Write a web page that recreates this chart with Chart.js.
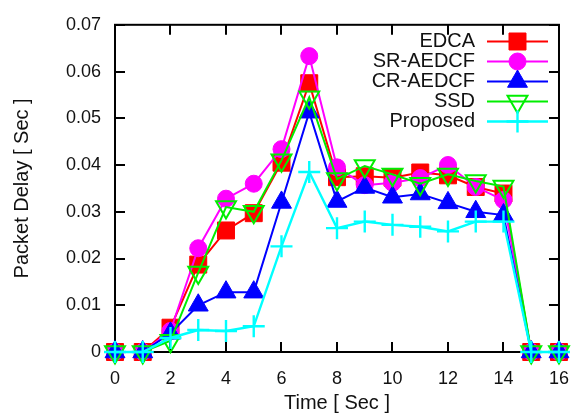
<!DOCTYPE html>
<html>
<head>
<meta charset="utf-8">
<script src="https://cdn.jsdelivr.net/npm/chart.js@4/dist/chart.umd.min.js"></script>
<style>
  html, body { margin: 0; padding: 0; background: #fff; }
  #wrap { width: 585px; height: 416px; }
</style>
</head>
<body>
<div id="wrap"><canvas id="chart" width="585" height="416"></canvas></div>
<script>
// data
const times = [0, 1, 2, 3, 4, 5, 6, 7, 8, 9, 10, 11, 12, 13, 14, 15, 16];
const edca = [0, 0, 0.0052, 0.0187, 0.026, 0.0297, 0.0405, 0.0575, 0.0374, 0.0376, 0.0373, 0.0384, 0.0378, 0.0353, 0.0339, 0, 0];
const srAedcf = [0, 0, 0.0045, 0.0222, 0.0328, 0.036, 0.0434, 0.0633, 0.0395, 0.0357, 0.0362, 0.0372, 0.04, 0.0353, 0.0325, 0, 0];
const crAedcf = [0, 0, 0.004, 0.01, 0.0128, 0.0128, 0.032, 0.0513, 0.0322, 0.0352, 0.0331, 0.0338, 0.0319, 0.03, 0.0293, 0, 0];
const ssd = [0, 0, 0.0024, 0.017, 0.031, 0.03, 0.041, 0.0545, 0.037, 0.0398, 0.038, 0.036, 0.038, 0.0366, 0.0354, 0, 0];
const proposed = [0, 0, 0.003, 0.0047, 0.0045, 0.0055, 0.0226, 0.0385, 0.0265, 0.0279, 0.0272, 0.0268, 0.0258, 0.0279, 0.0279, 0, 0];

const seriesNames = ["EDCA", "SR-AEDCF", "CR-AEDCF", "SSD", "Proposed"];
const xTicks = [0, 2, 4, 6, 8, 10, 12, 14, 16];
const yTicks = [0, 0.01, 0.02, 0.03, 0.04, 0.05, 0.06, 0.07];

const FONT = "'Liberation Sans', Arial, sans-serif";

const styles = [
  { color: "#ff0000", pointStyle: "rect", radius: 12, fill: true, rot: 0, bw: 1 },
  { color: "#ff00ff", pointStyle: "circle", radius: 8.5, fill: true, rot: 0, bw: 1 },
  { color: "#0000ff", pointStyle: "triangle", radius: 11.5, fill: true, rot: 0, bw: 1 },
  { color: "#00ee00", pointStyle: "triangle", radius: 11.5, fill: false, rot: 180, bw: 2 },
  { color: "#00ffff", pointStyle: "cross", radius: 11, fill: false, rot: 0, bw: 2.4 },
];

const allValues = [edca, srAedcf, crAedcf, ssd, proposed];

const datasets = allValues.map((vals, i) => {
  const s = styles[i];
  return {
    label: seriesNames[i],
    data: times.map((t, j) => ({ x: t, y: vals[j] })),
    borderColor: s.color,
    backgroundColor: s.fill ? s.color : "rgba(0,0,0,0)",
    borderWidth: i === 4 ? 2.4 : 2,
    pointStyle: s.pointStyle,
    pointRadius: s.radius,
    pointRotation: s.rot,
    pointBorderColor: s.color,
    pointBackgroundColor: s.fill ? s.color : "rgba(0,0,0,0)",
    pointBorderWidth: s.bw,
    tension: 0,
    clip: false,
    order: 5 - i, // later series painted on top, like gnuplot
  };
});

function marker(ctx, s, x, y) {
  const opts = {
    pointStyle: s.pointStyle,
    radius: s.radius,
    rotation: s.rot,
    borderWidth: s.bw,
  };
  ctx.save();
  ctx.strokeStyle = s.color;
  ctx.fillStyle = s.fill ? s.color : "rgba(0,0,0,0)";
  ctx.lineWidth = opts.borderWidth;
  Chart.helpers.drawPoint(ctx, opts, x, y);
  ctx.restore();
}

const frame = {
  id: "frame",
  beforeDatasetsDraw(chart) {
    const { ctx, chartArea: a, scales } = chart;
    const tl = 10;
    ctx.save();
    ctx.strokeStyle = "#000";
    ctx.lineWidth = 2;
    ctx.beginPath();
    xTicks.forEach((v) => {
      const px = Math.round(scales.x.getPixelForValue(v));
      ctx.moveTo(px, a.bottom); ctx.lineTo(px, a.bottom - tl);
      ctx.moveTo(px, a.top); ctx.lineTo(px, a.top + tl);
    });
    yTicks.forEach((v) => {
      const py = Math.round(scales.y.getPixelForValue(v));
      ctx.moveTo(a.left, py); ctx.lineTo(a.left + tl, py);
      ctx.moveTo(a.right, py); ctx.lineTo(a.right - tl, py);
    });
    ctx.stroke();
    ctx.strokeRect(a.left, a.top, a.right - a.left, a.bottom - a.top);

    // axis titles
    ctx.fillStyle = "#111";
    ctx.font = "20px " + FONT;
    ctx.textAlign = "center";
    ctx.textBaseline = "middle";
    ctx.fillText("Time [ Sec ]", (a.left + a.right) / 2, 403);
    ctx.translate(22, (a.top + a.bottom) / 2);
    ctx.rotate(-Math.PI / 2);
    ctx.fillText("Packet Delay [ Sec ]", 0, 0);
    ctx.restore();
  },
  afterDatasetsDraw(chart) {
    const { ctx } = chart;
    ctx.save();
    ctx.font = "20px " + FONT;
    ctx.textAlign = "right";
    ctx.textBaseline = "middle";
    seriesNames.forEach((name, i) => {
      const y = 41.5 + 20 * i;
      const s = styles[i];
      ctx.fillStyle = "#111";
      ctx.fillText(name, 475, y);
      ctx.strokeStyle = s.color;
      ctx.lineWidth = i === 4 ? 2.4 : 2;
      ctx.beginPath();
      ctx.moveTo(487, y); ctx.lineTo(548, y);
      ctx.stroke();
      marker(ctx, s, 517.5, y);
    });
    ctx.restore();
  },
};

new Chart(document.getElementById("chart"), {
  type: "line",
  data: { datasets: datasets },
  options: {
    responsive: false,
    animation: false,
    devicePixelRatio: 1,
    layout: { padding: { top: 21, right: 14, left: 0, bottom: 0 } },
    plugins: {
      legend: { display: false },
      tooltip: { enabled: false },
    },
    scales: {
      x: {
        type: "linear",
        min: 0,
        max: 16,
        grid: { display: false, drawTicks: false },
        border: { display: false },
        ticks: {
          stepSize: 2,
          padding: 16,
          color: "#111",
          font: { family: FONT, size: 18 },
          maxRotation: 0,
        },
        afterFit: (s) => { s.height = 64; },
      },
      y: {
        min: 0,
        max: 0.07,
        grid: { display: false, drawTicks: false },
        border: { display: false },
        ticks: {
          stepSize: 0.01,
          padding: 14,
          color: "#111",
          font: { family: FONT, size: 18 },
          callback: (v) => (v === 0 ? "0" : v.toFixed(2)),
        },
        afterFit: (s) => { s.width = 115; },
      },
    },
  },
  plugins: [frame],
});
</script>
</body>
</html>
